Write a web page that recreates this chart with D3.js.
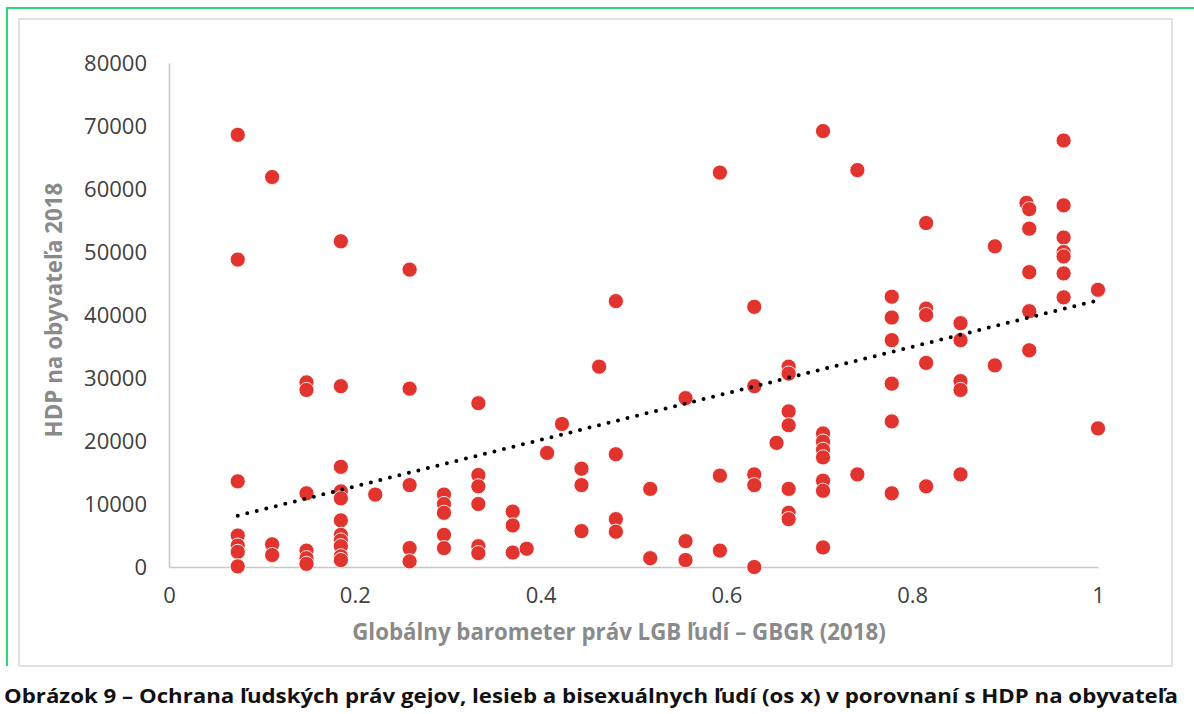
<!DOCTYPE html>
<html>
<head>
<meta charset="utf-8">
<script src="https://cdn.jsdelivr.net/npm/d3@7"></script>
<style>
  body { margin: 0; background: #fff; }
  svg { display: block; }
  .tick text { font-family: "Open Sans", sans-serif; fill: #404040; }
  .axis path { stroke: #c8c8c8; stroke-width: 1.6; }
  .title { font-family: "Open Sans", sans-serif; font-weight: bold; fill: #8a8a8a; }
</style>
</head>
<body>
<div id="root"></div>
<script>
// GBGR score (x) and GDP per capita 2018 (y), one entry per country
const gbgr = [
  0.074, 0.074, 0.074, 0.074, 0.074, 0.074, 0.074,
  0.111, 0.111, 0.111,
  0.148, 0.148, 0.148, 0.148, 0.148, 0.148,
  0.185, 0.185, 0.185, 0.185, 0.185, 0.185, 0.185, 0.185, 0.185, 0.185, 0.185,
  0.222,
  0.259, 0.259, 0.259, 0.259, 0.259,
  0.296, 0.296, 0.296, 0.296, 0.296,
  0.333, 0.333, 0.333, 0.333, 0.333, 0.333,
  0.370, 0.370, 0.370,
  0.385, 0.407, 0.423,
  0.444, 0.444, 0.444,
  0.463,
  0.481, 0.481, 0.481, 0.481,
  0.518, 0.518,
  0.556, 0.556, 0.556,
  0.593, 0.593, 0.593,
  0.630, 0.630, 0.630, 0.630, 0.630,
  0.654,
  0.667, 0.667, 0.667, 0.667, 0.667, 0.667, 0.667,
  0.704, 0.704, 0.704, 0.704, 0.704, 0.704, 0.704, 0.704,
  0.741, 0.741,
  0.778, 0.778, 0.778, 0.778, 0.778, 0.778,
  0.815, 0.815, 0.815, 0.815, 0.815,
  0.852, 0.852, 0.852, 0.852, 0.852,
  0.889, 0.889,
  0.923, 0.926, 0.926, 0.926, 0.926, 0.926,
  0.963, 0.963, 0.963, 0.963, 0.963, 0.963, 0.963,
  1.0, 1.0
];
const hdp = [
  68600, 48800, 13600, 5000, 3400, 2400, 100,
  61900, 3600, 1900,
  29300, 28100, 11700, 2600, 1400, 500,
  51700, 28700, 15900, 12000, 10900, 7400, 5100, 4200, 3300, 1700, 1100,
  11500,
  47200, 28300, 13000, 3000, 900,
  11500, 10000, 8600, 5100, 3000,
  26000, 14600, 12800, 10000, 3300, 2200,
  8800, 6600, 2300,
  2900, 18100, 22700,
  15600, 13000, 5700,
  31800,
  42200, 17900, 7600, 5600,
  12400, 1400,
  26800, 4100, 1100,
  62600, 14500, 2600,
  41300, 28700, 14700, 13000, 0,
  19700,
  31800, 30700, 24700, 22500, 12400, 8600, 7600,
  69200, 21200, 19900, 18600, 17400, 13700, 12100, 3100,
  63000, 14700,
  42900, 39600, 36000, 29100, 23100, 11700,
  54600, 41000, 40000, 32400, 12800,
  38700, 36000, 29500, 28100, 14700,
  50900, 32000,
  57800, 56800, 53700, 46800, 40600, 34400,
  67700, 57400, 52300, 50000, 49300, 46600, 42800,
  44000, 22000
];

// linear trend line, end points
const trendX = [0.074, 1.0];
const trendY = [8140, 42340];

const xTicks = [0, 0.2, 0.4, 0.6, 0.8, 1];
const yTicks = [0, 10000, 20000, 30000, 40000, 50000, 60000, 70000, 80000];

const xTitle = "Globálny barometer práv LGB ľudí – GBGR (2018)";
const yTitle = "HDP na obyvateľa 2018";
const caption = "Obrázok 9 – Ochrana ľudských práv gejov, lesieb a bisexuálnych ľudí (os x) v porovnaní s HDP na obyvateľa";

const W = 1194, H = 714;
const plot = {left: 169, right: 1098, top: 63, bottom: 567};

const svg = d3.select("#root").append("svg")
    .attr("width", W)
    .attr("height", H);

// frames
svg.append("path")
    .attr("d", `M7,666 L7,8 L${W + 5},8`)
    .attr("fill", "none")
    .attr("stroke", "#2fd872")
    .attr("stroke-width", 2);

svg.append("rect")
    .attr("x", 19).attr("y", 19)
    .attr("width", 1153).attr("height", 647)
    .attr("fill", "#fff")
    .attr("stroke", "#d9d9d9")
    .attr("stroke-width", 1.5);

const x = d3.scaleLinear().domain([0, 1]).range([plot.left, plot.right]);
const y = d3.scaleLinear().domain([0, 80000]).range([plot.bottom, plot.top]);

const xAxis = svg.append("g")
    .attr("class", "axis")
    .attr("transform", `translate(0,${plot.bottom})`)
    .call(d3.axisBottom(x).tickValues(xTicks).tickSize(0).tickPadding(24)
        .tickFormat(d => String(+d.toFixed(1))));
xAxis.selectAll(".tick text").attr("font-size", 22).attr("dy", "0.55em");

const yAxis = svg.append("g")
    .attr("class", "axis")
    .attr("transform", `translate(${plot.left},0)`)
    .call(d3.axisLeft(y).tickValues(yTicks).tickSize(0).tickPadding(22)
        .tickFormat(d3.format("d")));
yAxis.selectAll(".tick text").attr("font-size", 22).attr("dy", "0.36em");

// scatter points
const data = gbgr.map((g, i) => ({g: g, v: hdp[i]}));
svg.append("g").selectAll("circle")
    .data(data)
    .enter()
    .append("circle")
    .attr("cx", d => x(d.g))
    .attr("cy", d => y(d.v))
    .attr("r", 7.6)
    .attr("fill", "#e1342e")
    .attr("stroke", "#fff")
    .attr("stroke-width", 0.9);

// dotted trend line
svg.append("line")
    .attr("x1", x(trendX[0])).attr("y1", y(trendY[0]))
    .attr("x2", x(trendX[1])).attr("y2", y(trendY[1]))
    .attr("stroke", "#000")
    .attr("stroke-width", 4)
    .attr("stroke-linecap", "round")
    .attr("stroke-dasharray", "0 9.8");

// fit a text element to a target width
function fit(sel, target) {
    const w = sel.node().getComputedTextLength();
    const fs = parseFloat(sel.attr("font-size"));
    sel.attr("font-size", fs * target / w);
}

const xt = svg.append("text")
    .attr("class", "title")
    .attr("x", 619).attr("y", 640)
    .attr("text-anchor", "middle")
    .attr("font-size", 20)
    .text(xTitle);
fit(xt, 534);

const yt = svg.append("text")
    .attr("class", "title")
    .attr("transform", "translate(62,310) rotate(-90)")
    .attr("text-anchor", "middle")
    .attr("font-size", 20)
    .text(yTitle);
fit(yt, 255);

// caption is a condensed face in the source, so squeeze a taller font to width
svg.append("text")
    .attr("x", 4).attr("y", 703)
    .attr("font-family", "'Open Sans', sans-serif")
    .attr("font-weight", "bold")
    .attr("fill", "#111")
    .attr("font-size", 20)
    .attr("textLength", 1174)
    .attr("lengthAdjust", "spacingAndGlyphs")
    .text(caption);
</script>
</body>
</html>
